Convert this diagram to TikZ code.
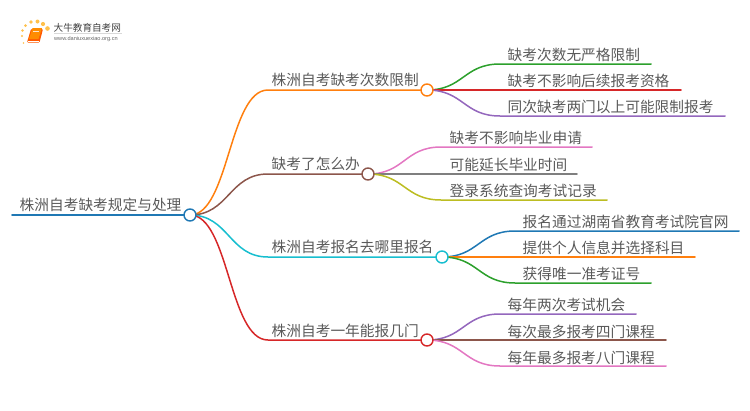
\documentclass[tikz,border=0pt]{standalone}
\usepackage{fontspec}
\usetikzlibrary{calc}
\setmainfont{Noto Sans CJK SC}
\newfontfamily\latinf{Liberation Sans}
\definecolor{txt}{HTML}{5A5A5A}
\definecolor{cblue}{HTML}{1F78B4}
\definecolor{corange}{HTML}{FF7F0E}
\definecolor{cbrown}{HTML}{8C564B}
\definecolor{ccyan}{HTML}{17BECF}
\definecolor{cred}{HTML}{D62728}
\definecolor{cgreen}{HTML}{2CA02C}
\definecolor{cpurple}{HTML}{9467BD}
\definecolor{cpink}{HTML}{E377C2}
\definecolor{cgray}{HTML}{7F7F7F}
\definecolor{colive}{HTML}{BCBD22}
\tikzset{
  lab/.style={font=\fontsize{14.7}{16}\selectfont, text=txt, anchor=west, inner sep=0pt},
  hub/.style={circle, draw=#1, fill=white, line width=1.4pt, minimum size=12pt, inner sep=0pt},
  wire/.style={line width=1.5pt, line cap=round},
}
\newcommand{\curvewire}[4]{% colour, from, via, to
  \draw[wire,#1] (#2) .. controls ($(#2)!0.5!(#3 |- #2)$) and ($(#3)!0.5!(#2 |- #3)$) .. (#3) -- (#4);
}
\begin{document}
\begin{tikzpicture}[x=1pt,y=-1pt]
\useasboundingbox (0,0) rectangle (750,410);
% coordinates
\coordinate (r0) at (12,215);
\coordinate (h1) at (427,90);
\coordinate (h2) at (368,174);
\coordinate (h3) at (442,257);
\coordinate (h4) at (427,340);
\coordinate (rc) at (190,215);
% main branches
\draw[wire,cblue,line width=1.7pt] (r0) -- (rc);
\coordinate (b1) at (268,90); \coordinate (b2) at (268,174); \coordinate (b3) at (268,257); \coordinate (b4) at (268,340);
\curvewire{corange}{rc}{b1}{h1}
\curvewire{cbrown}{rc}{b2}{h2}
\curvewire{ccyan}{rc}{b3}{h3}
\curvewire{cred}{rc}{b4}{h4}
% leaves 1
\coordinate (a1) at (500,64); \coordinate (a1e) at (651,64);
\coordinate (a2) at (500,90); \coordinate (a2e) at (681,90);
\coordinate (a3) at (500,116); \coordinate (a3e) at (725,116);
\curvewire{cgreen}{h1}{a1}{a1e}
\curvewire{cred}{h1}{a2}{a2e}
\curvewire{cpurple}{h1}{a3}{a3e}
% leaves 2
\coordinate (c1) at (441,147); \coordinate (c1e) at (592,147);
\coordinate (c2) at (441,174); \coordinate (c2e) at (577,174);
\coordinate (c3) at (441,200); \coordinate (c3e) at (607,200);
\curvewire{cpink}{h2}{c1}{c1e}
\curvewire{cgray}{h2}{c2}{c2e}
\curvewire{colive}{h2}{c3}{c3e}
% leaves 3
\coordinate (d1) at (515,231); \coordinate (d1e) at (739,231);
\coordinate (d2) at (515,257); \coordinate (d2e) at (695,257);
\coordinate (d3) at (515,283); \coordinate (d3e) at (651,283);
\curvewire{cblue}{h3}{d1}{d1e}
\curvewire{corange}{h3}{d2}{d2e}
\curvewire{cgreen}{h3}{d3}{d3e}
% leaves 4
\coordinate (e1) at (500,314); \coordinate (e1e) at (636,314);
\coordinate (e2) at (500,340); \coordinate (e2e) at (666,340);
\coordinate (e3) at (500,366); \coordinate (e3e) at (666,366);
\curvewire{cpurple}{h4}{e1}{e1e}
\curvewire{cbrown}{h4}{e2}{e2e}
\curvewire{cpink}{h4}{e3}{e3e}
% hubs
\node[hub=cblue] (nr) at (rc) {};
\node[hub=corange] (n1) at (h1) {};
\node[hub=cbrown] (n2) at (h2) {};
\node[hub=ccyan] (n3) at (h3) {};
\node[hub=cred] (n4) at (h4) {};
% labels
\node[lab] (tr) at (19.5,205) {株洲自考缺考规定与处理};
\node[lab] (t1) at (271.5,80) {株洲自考缺考次数限制};
\node[lab] (t2) at (271.5,163.5) {缺考了怎么办};
\node[lab] (t3) at (271.5,247) {株洲自考报名去哪里报名};
\node[lab] (t4) at (271.5,330.5) {株洲自考一年能报几门};
\node[lab] at (507.5,54.5) {缺考次数无严格限制};
\node[lab] at (507.5,81) {缺考不影响后续报考资格};
\node[lab] at (507.5,107) {同次缺考两门以上可能限制报考};
\node[lab] at (449.5,137.5) {缺考不影响毕业申请};
\node[lab] at (449.5,164.5) {可能延长毕业时间};
\node[lab] at (449.5,190.5) {登录系统查询考试记录};
\node[lab] at (522.5,221.5) {报名通过湖南省教育考试院官网};
\node[lab] at (522.5,247.5) {提供个人信息并选择科目};
\node[lab] at (522.5,274) {获得唯一准考证号};
\node[lab] at (507.5,305) {每年两次考试机会};
\node[lab] at (507.5,331.5) {每次最多报考四门课程};
\node[lab] at (507.5,357.5) {每年最多报考八门课程};
% logo
\foreach \p/\r in {{23.5,43}/0.8,{22,36}/1.1,{22.5,30.5}/1.3,{25.5,25.5}/1.5,{31,22}/1.8,{37.5,21.5}/2,{43,24}/2.1,{47.5,28.5}/2.3}{
  \fill[orange!70!yellow,opacity=.7] (\p) circle (\r);
}
\fill[orange!70!red,rounded corners=1pt] (27,42.5) -- (31,29) -- (43,29) -- (39.5,42.5) -- cycle;
\fill[orange!90!yellow] (29,39) -- (32.5,28) -- (42,28) -- (38.5,39) -- cycle;
\draw[white,line width=.6pt] (28,41) -- (38.5,41);
\draw[white!80!orange,line width=.5pt] (33,31) -- (39,31);
\node[font=\fontsize{9.6}{10}\selectfont,text=black!75,inner sep=0pt,anchor=west] (logo) at (53.5,27.5) {大牛教育自考网};
\draw[black!15,line width=.5pt] (54,33) -- (122,33);
\node[font=\latinf\fontsize{5.6}{6}\selectfont,text=black!60,inner sep=0pt,anchor=west] (url) at (54,38.8) {www.daniuxuexiao.org.cn};
\end{tikzpicture}
\end{document}
